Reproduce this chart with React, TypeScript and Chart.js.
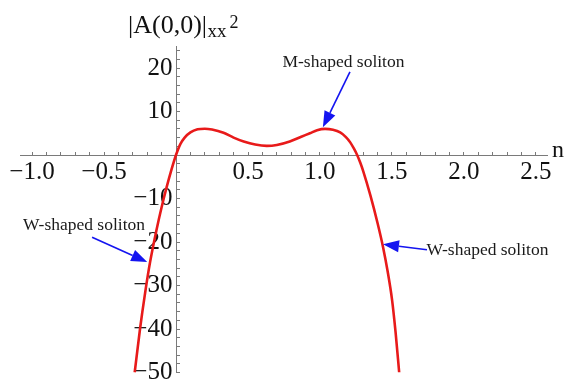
import React, { useEffect, useRef } from "react";
import { Chart, registerables } from "chart.js";

Chart.register(...registerables);

// Second derivative amplitude |A(0,0)|_xx^2 against n
const nValues = [
  -0.287, -0.25, -0.215, -0.18, -0.134, -0.1, -0.065, -0.03, 0, 0.03, 0.06, 0.1,
  0.15, 0.2, 0.25, 0.33, 0.4, 0.47, 0.55, 0.63, 0.7, 0.79, 0.87, 0.93, 0.98,
  1.035, 1.09, 1.14, 1.18, 1.21, 1.235, 1.258, 1.28, 1.3, 1.35, 1.4, 1.438,
  1.47, 1.5, 1.525, 1.55,
];
const ampValues = [
  -50, -40, -31.8, -24.6, -17, -12, -7.4, -3.2, 0, 2.5, 4.0, 5.2,
  5.9, 6.05, 5.85, 5.1, 4.0, 3.1, 2.4, 2.1, 2.3, 3.1, 4.2, 5.0, 5.7,
  6.0, 5.8, 5.2, 4.1, 2.9, 1.5, 0, -1.8, -3.7, -9.3, -15.7, -21.2,
  -26.8, -33.2, -40.8, -50,
];

// Labelled ticks on each axis
const xMajorTicks = [-1.0, -0.5, 0.5, 1.0, 1.5, 2.0, 2.5];
const yMajorTicks = [-50, -40, -30, -20, -10, 10, 20];

// Callouts: text anchor and arrow (from -> tip), in data units
const calloutTexts = ["M-shaped soliton", "W-shaped soliton", "W-shaped soliton"];
const calloutTextAt = [[1.163, 20.3], [-0.639, -17.2], [2.163, -23.1]];
const calloutArrowFrom = [[1.208, 19.1], [-0.583, -18.9], [1.743, -21.8]];
const calloutArrowTo = [[1.02, 6.4], [-0.2, -24.6], [1.4375, -20.5]];

const SERIF = "'Liberation Serif', 'Times New Roman', serif";

const fmt = (v: number) => {
  const s = Math.abs(v) % 1 === 0 && Math.abs(v) >= 10 ? String(Math.abs(v)) : Math.abs(v).toFixed(1);
  return v < 0 ? "\u2212" + s : s;
};
const isMajor = (v: number, list: number[]) => list.some((m) => Math.abs(m - v) < 1e-6);

const zeroPadding = (scale: any) => {
  scale.paddingLeft = 0;
  scale.paddingRight = 0;
  scale.paddingTop = 0;
  scale.paddingBottom = 0;
};

const overlay = {
  id: "overlay",
  afterDraw(chart: any) {
    const { ctx } = chart;
    const xs = chart.scales.x;
    const ys = chart.scales.y;
    const px = (v: number) => xs.getPixelForValue(v);
    const py = (v: number) => ys.getPixelForValue(v);
    ctx.save();
    ctx.fillStyle = "#111";
    ctx.textBaseline = "alphabetic";
    ctx.textAlign = "left";

    // vertical axis title |A(0,0)|_xx^2
    const tx = px(0) - 48;
    ctx.font = `26px ${SERIF}`;
    ctx.fillText("|A(0,0)|", tx, 33);
    const w1 = ctx.measureText("|A(0,0)|").width;
    ctx.font = `19px ${SERIF}`;
    ctx.fillText("xx", tx + w1 + 0.5, 37);
    const w2 = ctx.measureText("xx").width;
    ctx.font = `18px ${SERIF}`;
    ctx.fillText("2", tx + w1 + w2 + 3.5, 28);

    // horizontal axis title
    ctx.font = `24px ${SERIF}`;
    ctx.fillText("n", xs.right + 4.5, py(0) + 2);

    // callouts
    ctx.font = `17.5px ${SERIF}`;
    ctx.textAlign = "center";
    ctx.fillStyle = "#1a1a1a";
    calloutTexts.forEach((t, i) => {
      ctx.fillText(t, px(calloutTextAt[i][0]), py(calloutTextAt[i][1]));
    });

    ctx.strokeStyle = "#1414f0";
    ctx.fillStyle = "#1414f0";
    ctx.lineWidth = 1.6;
    calloutArrowFrom.forEach((from, i) => {
      const x1 = px(from[0]);
      const y1 = py(from[1]);
      const x2 = px(calloutArrowTo[i][0]);
      const y2 = py(calloutArrowTo[i][1]);
      const ang = Math.atan2(y2 - y1, x2 - x1);
      const headLen = 16;
      const headHalf = 6;
      const bx = x2 - headLen * Math.cos(ang);
      const by = y2 - headLen * Math.sin(ang);
      ctx.beginPath();
      ctx.moveTo(x1, y1);
      ctx.lineTo(bx, by);
      ctx.stroke();
      ctx.beginPath();
      ctx.moveTo(x2, y2);
      ctx.lineTo(bx + headHalf * Math.sin(ang), by - headHalf * Math.cos(ang));
      ctx.lineTo(bx - headHalf * Math.sin(ang), by + headHalf * Math.cos(ang));
      ctx.closePath();
      ctx.fill();
    });
    ctx.restore();
  },
};

export default function App() {
  const ref = useRef<HTMLCanvasElement | null>(null);

  useEffect(() => {
    document.body.style.margin = "0";
    const canvas = ref.current;
    if (!canvas) return;
    const points = nValues.map((n, i) => ({ x: n, y: ampValues[i] }));
    const chart = new Chart(canvas, {
      type: "scatter",
      data: {
        datasets: [
          {
            data: points,
            showLine: true,
            borderColor: "#e81a1a",
            borderWidth: 2.6,
            pointRadius: 0,
            cubicInterpolationMode: "monotone",
            yAxisID: "y",
          },
        ],
      },
      options: {
        responsive: false,
        animation: false,
        devicePixelRatio: 1,
        layout: { padding: { left: 20.5, right: 17.5, top: 46.25, bottom: 11.5 } },
        plugins: { legend: { display: false }, tooltip: { enabled: false } },
        scales: {
          x: {
            type: "linear",
            position: { y: 0 },
            min: -1.08,
            max: 2.58,
            afterFit: zeroPadding,
            border: { display: true, color: "#7a7a7a", width: 1 },
            grid: { drawOnChartArea: false, drawTicks: true, tickLength: -4, tickColor: "#7a7a7a" },
            ticks: {
              stepSize: 0.1,
              includeBounds: false,
              autoSkip: false,
              maxRotation: 0,
              padding: 6,
              color: "#111",
              font: { family: SERIF, size: 25 },
              callback: (v: any) => (isMajor(Number(v), xMajorTicks) ? fmt(Number(v)) : ""),
            },
          },
          y: {
            type: "linear",
            position: { x: 0 },
            min: -50,
            max: 25,
            afterFit: zeroPadding,
            border: { display: true, color: "#7a7a7a", width: 1 },
            grid: { drawOnChartArea: false, drawTicks: true, tickLength: -4, tickColor: "#7a7a7a" },
            ticks: {
              stepSize: 2,
              includeBounds: false,
              autoSkip: false,
              display: false,
            },
          },
          yLabels: {
            type: "linear",
            position: { x: -0.025 },
            min: -50,
            max: 25,
            afterFit: zeroPadding,
            border: { display: false },
            grid: { display: false },
            ticks: {
              stepSize: 10,
              includeBounds: false,
              autoSkip: false,
              color: "#111",
              font: { family: SERIF, size: 25 },
              callback: (v: any) => (isMajor(Number(v), yMajorTicks) ? fmt(Number(v)) : ""),
            },
          },
        },
      } as any,
      plugins: [overlay],
    });
    return () => chart.destroy();
  }, []);

  return (
    <div style={{ position: "absolute", left: 0, top: 0, width: 565, height: 384 }}>
      <canvas ref={ref} width={565} height={384} />
    </div>
  );
}
